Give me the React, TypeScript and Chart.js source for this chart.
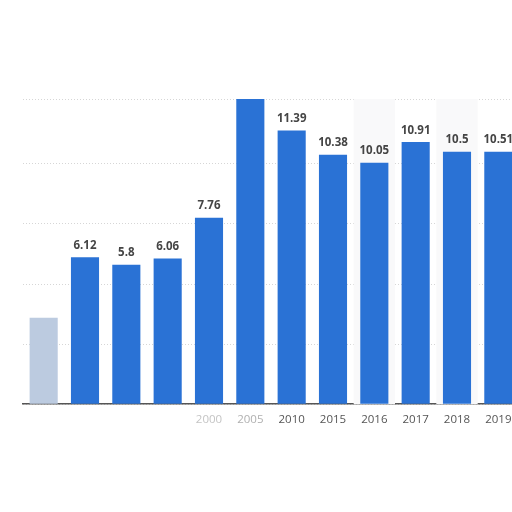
import { useEffect, useRef } from "react";
import { Chart, registerables, Plugin } from "chart.js";

Chart.register(...registerables);

const years = ["1980", "1985", "1990", "1995", "2000", "2005", "2010", "2015", "2016", "2017", "2018", "2019"];
const values = [3.6, 6.12, 5.8, 6.06, 7.76, 13.4, 11.39, 10.38, 10.05, 10.91, 10.5, 10.51];
const valueLabels = ["", "6.12", "5.8", "6.06", "7.76", "", "11.39", "10.38", "10.05", "10.91", "10.5", "10.51"];
const barColors = ["#bccbe0", "#2a72d5", "#2a72d5", "#2a72d5", "#2a72d5", "#2a72d5", "#2a72d5", "#2a72d5", "#2a72d5", "#2a72d5", "#2a72d5", "#2a72d5"];
const tickColors = ["rgba(0,0,0,0)", "rgba(0,0,0,0)", "rgba(0,0,0,0)", "rgba(0,0,0,0)", "#c4c4c4", "#b0b0b0", "#555", "#555", "#555", "#555", "#555", "#555"];
const shadedYears = ["2016", "2018"];

const shading: Plugin<"bar"> = {
  id: "shading",
  beforeDatasetsDraw(chart) {
    const { ctx, chartArea, scales } = chart;
    const x = scales.x;
    const slot = x.width / years.length;
    ctx.save();
    ctx.fillStyle = "#f9f9fa";
    shadedYears.forEach(y => {
      const cx = x.getPixelForValue(years.indexOf(y));
      ctx.fillRect(cx - slot / 2, chartArea.top, slot, chartArea.bottom - chartArea.top);
    });
    ctx.restore();
  },
};

const barLabels: Plugin<"bar"> = {
  id: "barLabels",
  afterDatasetsDraw(chart) {
    const { ctx } = chart;
    const meta = chart.getDatasetMeta(0);
    ctx.save();
    ctx.font = "bold 11.5px 'Open Sans'";
    ctx.fillStyle = "#454545";
    ctx.textAlign = "center";
    ctx.textBaseline = "bottom";
    meta.data.forEach((bar, i) => {
      if (!valueLabels[i]) return;
      ctx.fillText(valueLabels[i], bar.x, bar.y - 6);
    });
    ctx.restore();
  },
};

export default function App() {
  const canvasRef = useRef<HTMLCanvasElement>(null);
  const chartRef = useRef<Chart | null>(null);

  useEffect(() => {
    if (!canvasRef.current) return;
    if (chartRef.current) chartRef.current.destroy();

    chartRef.current = new Chart(canvasRef.current, {
      type: "bar",
      data: {
        labels: years,
        datasets: [
          {
            data: values,
            backgroundColor: barColors,
            borderWidth: 0,
            barPercentage: 0.68,
            categoryPercentage: 1,
          },
        ],
      },
      options: {
        animation: false,
        responsive: false,
        maintainAspectRatio: false,
        layout: { padding: { left: 23, right: 1, top: 99, bottom: 84 } },
        plugins: {
          legend: { display: false },
          tooltip: { enabled: false },
        },
        scales: {
          x: {
            grid: { display: false },
            border: { color: "#555", width: 1.5 },
            ticks: {
              color: tickColors,
              font: { family: "'Open Sans'", size: 11.5 },
              padding: 1,
              maxRotation: 0,
              autoSkip: false,
            },
          },
          y: {
            min: 0,
            max: 12.7,
            ticks: { display: false, stepSize: 2.5 },
            border: { display: false, dash: [1, 2] },
            grid: { color: "#d6d6d6", drawTicks: false },
          },
        },
      },
      plugins: [shading, barLabels],
    });

    return () => {
      if (chartRef.current) {
        chartRef.current.destroy();
        chartRef.current = null;
      }
    };
  }, []);

  return (
    <div style={{ position: "fixed", left: 0, top: 0, width: 512, height: 512, overflow: "hidden", background: "#fff" }}>
      <canvas ref={canvasRef} width={520} height={512} style={{ width: 520, height: 512 }}></canvas>
    </div>
  );
}
